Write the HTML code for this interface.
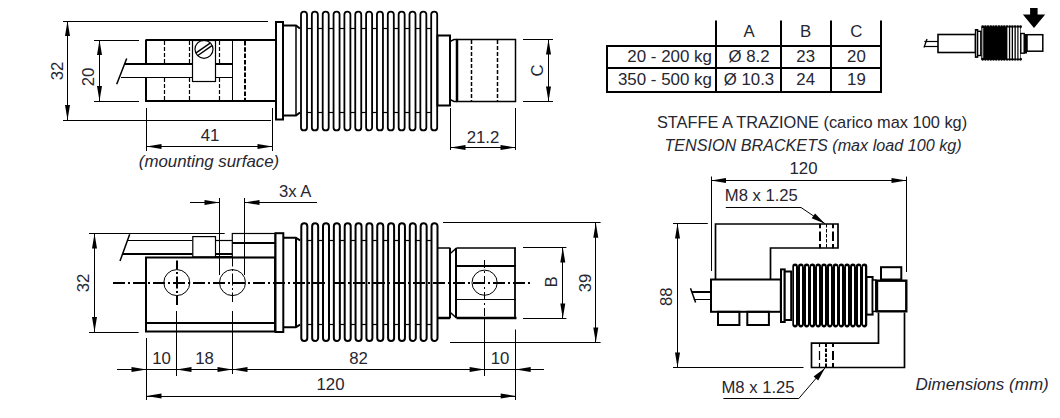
<!DOCTYPE html>
<html><head><meta charset="utf-8"><style>
html,body{margin:0;padding:0;background:#fff;}
svg{display:block;}
text{font-family:"Liberation Sans",sans-serif;fill:#262630;stroke:none;}
</style></head><body>
<svg width="1060" height="418" viewBox="0 0 1060 418" stroke="#000" stroke-linecap="butt">
<rect x="0" y="0" width="1060" height="418" fill="#fff" stroke="none"/>
<line x1="63" y1="21.5" x2="268" y2="21.5" stroke-width="1" />
<line x1="63" y1="120.5" x2="271" y2="120.5" stroke-width="1" />
<line x1="67.5" y1="21" x2="67.5" y2="120" stroke-width="1" />
<polygon points="67.5,21 65.0,36 70.0,36" fill="#000" stroke="none"/>
<polygon points="67.5,120 65.0,105 70.0,105" fill="#000" stroke="none"/>
<text x="0" y="0" transform="translate(63 71) rotate(-90) scale(1.05 1)" text-anchor="middle" font-size="16" >32</text>
<line x1="94" y1="40.5" x2="139" y2="40.5" stroke-width="1" />
<line x1="94" y1="101.5" x2="139" y2="101.5" stroke-width="1" />
<line x1="99.5" y1="40" x2="99.5" y2="101" stroke-width="1" />
<polygon points="99.5,40 97.0,55 102.0,55" fill="#000" stroke="none"/>
<polygon points="99.5,101 97.0,86 102.0,86" fill="#000" stroke="none"/>
<text x="0" y="0" transform="translate(94 77) rotate(-90) scale(1.05 1)" text-anchor="middle" font-size="16" >20</text>
<line x1="146" y1="40" x2="276" y2="40" stroke-width="2" />
<line x1="146" y1="101" x2="276" y2="101" stroke-width="2" />
<line x1="146" y1="39.5" x2="146" y2="64" stroke-width="2" />
<line x1="146" y1="77" x2="146" y2="102" stroke-width="2" />
<line x1="125" y1="64" x2="232.5" y2="64" stroke-width="2" />
<line x1="121" y1="77.5" x2="232.5" y2="77.5" stroke-width="1.2" />
<line x1="126.7" y1="58.4" x2="116.7" y2="84.3" stroke-width="1.5" />
<line x1="164.5" y1="41" x2="164.5" y2="63" stroke-width="1.2" stroke-dasharray="4 2"/>
<line x1="164.5" y1="78" x2="164.5" y2="101" stroke-width="1.2" stroke-dasharray="4 2"/>
<line x1="189.5" y1="41" x2="189.5" y2="63" stroke-width="1.2" stroke-dasharray="4 2"/>
<line x1="189.5" y1="78" x2="189.5" y2="101" stroke-width="1.2" stroke-dasharray="4 2"/>
<line x1="219.5" y1="41" x2="219.5" y2="63" stroke-width="1.2" stroke-dasharray="4 2"/>
<line x1="219.5" y1="78" x2="219.5" y2="101" stroke-width="1.2" stroke-dasharray="4 2"/>
<line x1="232.5" y1="40" x2="232.5" y2="101" stroke-width="1" />
<line x1="245" y1="41" x2="245" y2="100" stroke-width="2" stroke-dasharray="4.5 1.8"/>
<rect x="192.5" y="40.5" width="23.0" height="41.0" stroke-width="1.2" fill="#fff"/>
<circle cx="204" cy="49.3" r="9" stroke-width="1.2" fill="none"/>
<line x1="196.04" y1="52.92" x2="210.13" y2="43.06" stroke-width="1.4" />
<line x1="197.87" y1="55.54" x2="211.96" y2="45.68" stroke-width="1.4" />
<rect x="276" y="22" width="7" height="97.5" stroke-width="2" fill="#fff"/>
<polyline points="283,25.5 296,25.5 300,28.5" stroke-width="2" fill="none"/>
<polyline points="283,115.5 296,115.5 300,112.5" stroke-width="2" fill="none"/>
<line x1="296" y1="25.5" x2="296" y2="115.5" stroke-width="1.5" />
<path d="M301.0,127.4 L301.0,14.6 A3,3 0 0 1 307.0,14.6 L307.0,127.4 A3,3 0 0 1 301.0,127.4 Z" stroke-width="1.8" fill="none"/>
<line x1="307.0" y1="28.5" x2="311.85" y2="28.5" stroke-width="1.2" />
<line x1="307.0" y1="112.5" x2="311.85" y2="112.5" stroke-width="1.2" />
<path d="M311.85,127.4 L311.85,14.6 A3,3 0 0 1 317.85,14.6 L317.85,127.4 A3,3 0 0 1 311.85,127.4 Z" stroke-width="1.8" fill="none"/>
<line x1="317.85" y1="28.5" x2="322.7" y2="28.5" stroke-width="1.2" />
<line x1="317.85" y1="112.5" x2="322.7" y2="112.5" stroke-width="1.2" />
<path d="M322.7,127.4 L322.7,14.6 A3,3 0 0 1 328.7,14.6 L328.7,127.4 A3,3 0 0 1 322.7,127.4 Z" stroke-width="1.8" fill="none"/>
<line x1="328.7" y1="28.5" x2="333.55" y2="28.5" stroke-width="1.2" />
<line x1="328.7" y1="112.5" x2="333.55" y2="112.5" stroke-width="1.2" />
<path d="M333.55,127.4 L333.55,14.6 A3,3 0 0 1 339.55,14.6 L339.55,127.4 A3,3 0 0 1 333.55,127.4 Z" stroke-width="1.8" fill="none"/>
<line x1="339.55" y1="28.5" x2="344.4" y2="28.5" stroke-width="1.2" />
<line x1="339.55" y1="112.5" x2="344.4" y2="112.5" stroke-width="1.2" />
<path d="M344.4,127.4 L344.4,14.6 A3,3 0 0 1 350.4,14.6 L350.4,127.4 A3,3 0 0 1 344.4,127.4 Z" stroke-width="1.8" fill="none"/>
<line x1="350.4" y1="28.5" x2="355.25" y2="28.5" stroke-width="1.2" />
<line x1="350.4" y1="112.5" x2="355.25" y2="112.5" stroke-width="1.2" />
<path d="M355.25,127.4 L355.25,14.6 A3,3 0 0 1 361.25,14.6 L361.25,127.4 A3,3 0 0 1 355.25,127.4 Z" stroke-width="1.8" fill="none"/>
<line x1="361.25" y1="28.5" x2="366.1" y2="28.5" stroke-width="1.2" />
<line x1="361.25" y1="112.5" x2="366.1" y2="112.5" stroke-width="1.2" />
<path d="M366.1,127.4 L366.1,14.6 A3,3 0 0 1 372.1,14.6 L372.1,127.4 A3,3 0 0 1 366.1,127.4 Z" stroke-width="1.8" fill="none"/>
<line x1="372.1" y1="28.5" x2="376.95" y2="28.5" stroke-width="1.2" />
<line x1="372.1" y1="112.5" x2="376.95" y2="112.5" stroke-width="1.2" />
<path d="M376.95,127.4 L376.95,14.6 A3,3 0 0 1 382.95,14.6 L382.95,127.4 A3,3 0 0 1 376.95,127.4 Z" stroke-width="1.8" fill="none"/>
<line x1="382.95" y1="28.5" x2="387.8" y2="28.5" stroke-width="1.2" />
<line x1="382.95" y1="112.5" x2="387.8" y2="112.5" stroke-width="1.2" />
<path d="M387.8,127.4 L387.8,14.6 A3,3 0 0 1 393.8,14.6 L393.8,127.4 A3,3 0 0 1 387.8,127.4 Z" stroke-width="1.8" fill="none"/>
<line x1="393.8" y1="28.5" x2="398.65" y2="28.5" stroke-width="1.2" />
<line x1="393.8" y1="112.5" x2="398.65" y2="112.5" stroke-width="1.2" />
<path d="M398.65,127.4 L398.65,14.6 A3,3 0 0 1 404.65,14.6 L404.65,127.4 A3,3 0 0 1 398.65,127.4 Z" stroke-width="1.8" fill="none"/>
<line x1="404.65" y1="28.5" x2="409.5" y2="28.5" stroke-width="1.2" />
<line x1="404.65" y1="112.5" x2="409.5" y2="112.5" stroke-width="1.2" />
<path d="M409.5,127.4 L409.5,14.6 A3,3 0 0 1 415.5,14.6 L415.5,127.4 A3,3 0 0 1 409.5,127.4 Z" stroke-width="1.8" fill="none"/>
<line x1="415.5" y1="28.5" x2="420.35" y2="28.5" stroke-width="1.2" />
<line x1="415.5" y1="112.5" x2="420.35" y2="112.5" stroke-width="1.2" />
<path d="M420.35,127.4 L420.35,14.6 A3,3 0 0 1 426.35,14.6 L426.35,127.4 A3,3 0 0 1 420.35,127.4 Z" stroke-width="1.8" fill="none"/>
<line x1="426.35" y1="28.5" x2="431.2" y2="28.5" stroke-width="1.2" />
<line x1="426.35" y1="112.5" x2="431.2" y2="112.5" stroke-width="1.2" />
<path d="M431.2,127.4 L431.2,14.6 A3,3 0 0 1 437.2,14.6 L437.2,127.4 A3,3 0 0 1 431.2,127.4 Z" stroke-width="1.8" fill="none"/>
<rect x="437.5" y="35.5" width="12.5" height="70.0" stroke-width="2" fill="#fff"/>
<polyline points="450,41.5 454,39.5 457,39.5" stroke-width="1.5" fill="none"/>
<polyline points="450,99.5 454,101.5 457,101.5" stroke-width="1.5" fill="none"/>
<rect x="457" y="39.5" width="58.5" height="62.0" stroke-width="1.5" fill="#fff"/>
<line x1="457" y1="39.5" x2="457" y2="101.5" stroke-width="2.5" />
<line x1="471.5" y1="40" x2="471.5" y2="101" stroke-width="1.5" stroke-dasharray="4 2"/>
<line x1="497.5" y1="40" x2="497.5" y2="101" stroke-width="1.5" stroke-dasharray="4 2"/>
<line x1="523" y1="39.5" x2="553" y2="39.5" stroke-width="1" />
<line x1="523" y1="101.5" x2="553" y2="101.5" stroke-width="1" />
<line x1="548.5" y1="39.5" x2="548.5" y2="101.5" stroke-width="1" />
<polygon points="548.5,39.5 546.0,54.5 551.0,54.5" fill="#000" stroke="none"/>
<polygon points="548.5,101.5 546.0,86.5 551.0,86.5" fill="#000" stroke="none"/>
<text x="0" y="0" transform="translate(543 70.5) rotate(-90) scale(1.05 1)" text-anchor="middle" font-size="16" >C</text>
<line x1="450.5" y1="108" x2="450.5" y2="150" stroke-width="1" />
<line x1="515.5" y1="108" x2="515.5" y2="150" stroke-width="1" />
<line x1="450.5" y1="147.5" x2="515.5" y2="147.5" stroke-width="1" />
<polygon points="450.5,147.5 465.5,145.0 465.5,150.0" fill="#000" stroke="none"/>
<polygon points="515.5,147.5 500.5,145.0 500.5,150.0" fill="#000" stroke="none"/>
<text x="0" y="0" transform="translate(483 142.5) scale(1.05 1)" text-anchor="middle" font-size="16" >21.2</text>
<line x1="146.5" y1="108" x2="146.5" y2="151" stroke-width="1" />
<line x1="272.5" y1="108" x2="272.5" y2="151" stroke-width="1" />
<line x1="146.5" y1="146.5" x2="272.5" y2="146.5" stroke-width="1" />
<polygon points="146.5,146.5 161.5,144.0 161.5,149.0" fill="#000" stroke="none"/>
<polygon points="272.5,146.5 257.5,144.0 257.5,149.0" fill="#000" stroke="none"/>
<text x="0" y="0" transform="translate(210 141) scale(1.05 1)" text-anchor="middle" font-size="16" >41</text>
<text x="0" y="0" transform="translate(209 167) scale(1.053 1)" text-anchor="middle" font-size="16" font-style="italic" >(mounting surface)</text>
<line x1="89" y1="233.5" x2="224.7" y2="233.5" stroke-width="1" />
<line x1="89" y1="332.5" x2="138.6" y2="332.5" stroke-width="1" />
<line x1="94.5" y1="233.5" x2="94.5" y2="332" stroke-width="1" />
<polygon points="94.5,233.5 92.0,248.5 97.0,248.5" fill="#000" stroke="none"/>
<polygon points="94.5,332 92.0,317 97.0,317" fill="#000" stroke="none"/>
<text x="0" y="0" transform="translate(89 283) rotate(-90) scale(1.05 1)" text-anchor="middle" font-size="16" >32</text>
<line x1="219.5" y1="198" x2="219.5" y2="275" stroke-width="1" />
<line x1="244.5" y1="198" x2="244.5" y2="275" stroke-width="1" />
<line x1="190" y1="202.5" x2="219.5" y2="202.5" stroke-width="1" />
<polygon points="219.5,202.5 204.5,200.0 204.5,205.0" fill="#000" stroke="none"/>
<line x1="244.5" y1="202.5" x2="317" y2="202.5" stroke-width="1" />
<polygon points="244.5,202.5 259.5,200.0 259.5,205.0" fill="#000" stroke="none"/>
<text x="0" y="0" transform="translate(295.2 196.5) scale(1.04 1)" text-anchor="middle" font-size="16" >3x A</text>
<line x1="129.7" y1="234.3" x2="120" y2="261.1" stroke-width="1.5" />
<line x1="128" y1="240.5" x2="192.5" y2="240.5" stroke-width="1.2" />
<line x1="123" y1="254" x2="192.5" y2="254" stroke-width="2" />
<rect x="192.8" y="236.6" width="22.69999999999999" height="20.299999999999983" stroke-width="1.2" fill="#fff"/>
<line x1="215.5" y1="240.5" x2="232.3" y2="240.5" stroke-width="1.2" />
<line x1="215.5" y1="254" x2="232.3" y2="254" stroke-width="2" />
<line x1="215.5" y1="256.5" x2="232.3" y2="256.5" stroke-width="1" />
<rect x="146" y="257.5" width="129" height="74.0" stroke-width="2" fill="none"/>
<line x1="146" y1="323" x2="275" y2="323" stroke-width="2" />
<rect x="232.3" y="233.5" width="42.69999999999999" height="24.0" stroke-width="1.2" fill="none"/>
<line x1="232.3" y1="243" x2="275" y2="243" stroke-width="2" />
<rect x="275.5" y="233.2" width="7.800000000000011" height="98.80000000000001" stroke-width="2" fill="#fff"/>
<polyline points="283.3,237.7 295.8,237.7 300.1,240.4" stroke-width="2" fill="none"/>
<polyline points="283.3,327.3 295.8,327.3 300.1,324.6" stroke-width="2" fill="none"/>
<line x1="296" y1="237.7" x2="296" y2="327.3" stroke-width="2" />
<path d="M301.3,338 L301.3,226.2 A3,3 0 0 1 307.3,226.2 L307.3,338 A3,3 0 0 1 301.3,338 Z" stroke-width="2" fill="none"/>
<line x1="307.3" y1="240.5" x2="312.15" y2="240.5" stroke-width="1.2" />
<line x1="307.3" y1="324.5" x2="312.15" y2="324.5" stroke-width="1.2" />
<path d="M312.15,338 L312.15,226.2 A3,3 0 0 1 318.15,226.2 L318.15,338 A3,3 0 0 1 312.15,338 Z" stroke-width="2" fill="none"/>
<line x1="318.15" y1="240.5" x2="323.0" y2="240.5" stroke-width="1.2" />
<line x1="318.15" y1="324.5" x2="323.0" y2="324.5" stroke-width="1.2" />
<path d="M323.0,338 L323.0,226.2 A3,3 0 0 1 329.0,226.2 L329.0,338 A3,3 0 0 1 323.0,338 Z" stroke-width="2" fill="none"/>
<line x1="329.0" y1="240.5" x2="333.85" y2="240.5" stroke-width="1.2" />
<line x1="329.0" y1="324.5" x2="333.85" y2="324.5" stroke-width="1.2" />
<path d="M333.85,338 L333.85,226.2 A3,3 0 0 1 339.85,226.2 L339.85,338 A3,3 0 0 1 333.85,338 Z" stroke-width="2" fill="none"/>
<line x1="339.85" y1="240.5" x2="344.7" y2="240.5" stroke-width="1.2" />
<line x1="339.85" y1="324.5" x2="344.7" y2="324.5" stroke-width="1.2" />
<path d="M344.7,338 L344.7,226.2 A3,3 0 0 1 350.7,226.2 L350.7,338 A3,3 0 0 1 344.7,338 Z" stroke-width="2" fill="none"/>
<line x1="350.7" y1="240.5" x2="355.55" y2="240.5" stroke-width="1.2" />
<line x1="350.7" y1="324.5" x2="355.55" y2="324.5" stroke-width="1.2" />
<path d="M355.55,338 L355.55,226.2 A3,3 0 0 1 361.55,226.2 L361.55,338 A3,3 0 0 1 355.55,338 Z" stroke-width="2" fill="none"/>
<line x1="361.55" y1="240.5" x2="366.4" y2="240.5" stroke-width="1.2" />
<line x1="361.55" y1="324.5" x2="366.4" y2="324.5" stroke-width="1.2" />
<path d="M366.4,338 L366.4,226.2 A3,3 0 0 1 372.4,226.2 L372.4,338 A3,3 0 0 1 366.4,338 Z" stroke-width="2" fill="none"/>
<line x1="372.4" y1="240.5" x2="377.25" y2="240.5" stroke-width="1.2" />
<line x1="372.4" y1="324.5" x2="377.25" y2="324.5" stroke-width="1.2" />
<path d="M377.25,338 L377.25,226.2 A3,3 0 0 1 383.25,226.2 L383.25,338 A3,3 0 0 1 377.25,338 Z" stroke-width="2" fill="none"/>
<line x1="383.25" y1="240.5" x2="388.1" y2="240.5" stroke-width="1.2" />
<line x1="383.25" y1="324.5" x2="388.1" y2="324.5" stroke-width="1.2" />
<path d="M388.1,338 L388.1,226.2 A3,3 0 0 1 394.1,226.2 L394.1,338 A3,3 0 0 1 388.1,338 Z" stroke-width="2" fill="none"/>
<line x1="394.1" y1="240.5" x2="398.95" y2="240.5" stroke-width="1.2" />
<line x1="394.1" y1="324.5" x2="398.95" y2="324.5" stroke-width="1.2" />
<path d="M398.95,338 L398.95,226.2 A3,3 0 0 1 404.95,226.2 L404.95,338 A3,3 0 0 1 398.95,338 Z" stroke-width="2" fill="none"/>
<line x1="404.95" y1="240.5" x2="409.8" y2="240.5" stroke-width="1.2" />
<line x1="404.95" y1="324.5" x2="409.8" y2="324.5" stroke-width="1.2" />
<path d="M409.8,338 L409.8,226.2 A3,3 0 0 1 415.8,226.2 L415.8,338 A3,3 0 0 1 409.8,338 Z" stroke-width="2" fill="none"/>
<line x1="415.8" y1="240.5" x2="420.65" y2="240.5" stroke-width="1.2" />
<line x1="415.8" y1="324.5" x2="420.65" y2="324.5" stroke-width="1.2" />
<path d="M420.65,338 L420.65,226.2 A3,3 0 0 1 426.65,226.2 L426.65,338 A3,3 0 0 1 420.65,338 Z" stroke-width="2" fill="none"/>
<line x1="426.65" y1="240.5" x2="431.5" y2="240.5" stroke-width="1.2" />
<line x1="426.65" y1="324.5" x2="431.5" y2="324.5" stroke-width="1.2" />
<path d="M431.5,338 L431.5,226.2 A3,3 0 0 1 437.5,226.2 L437.5,338 A3,3 0 0 1 431.5,338 Z" stroke-width="2" fill="none"/>
<line x1="438" y1="248" x2="450.3" y2="248" stroke-width="1.5" />
<line x1="456.5" y1="248" x2="515.7" y2="248" stroke-width="1.5" />
<line x1="437" y1="318" x2="450.3" y2="318" stroke-width="2.5" />
<line x1="456.5" y1="318" x2="516.5" y2="318" stroke-width="2.5" />
<line x1="450" y1="248" x2="450" y2="318" stroke-width="2" />
<line x1="456" y1="248" x2="456" y2="318" stroke-width="2" />
<line x1="515" y1="247.5" x2="515" y2="318.5" stroke-width="1.8" />
<polyline points="450.3,253.5 456.5,248" stroke-width="1.5" fill="none"/>
<polyline points="450.3,312.5 456.5,318" stroke-width="1.5" fill="none"/>
<line x1="457" y1="266" x2="515.7" y2="266" stroke-width="2" />
<line x1="457" y1="299.5" x2="515.7" y2="299.5" stroke-width="1" />
<circle cx="176.8" cy="282.6" r="13" stroke-width="1" fill="none"/>
<circle cx="232.5" cy="282.6" r="13" stroke-width="1" fill="none"/>
<circle cx="484.6" cy="282.7" r="12.6" stroke-width="1" fill="none"/>
<line x1="113" y1="283" x2="533" y2="283" stroke-width="2" stroke-dasharray="12 3 2 3"/>
<line x1="177" y1="260.5" x2="177" y2="305" stroke-width="2" stroke-dasharray="9 2.5 2 2.5 12 2.5 2 2.5 9.5"/>
<line x1="232.5" y1="257.5" x2="232.5" y2="305" stroke-width="1" stroke-dasharray="9 2.5 2 2.5 12 2.5 2 2.5 9.5"/>
<line x1="484.5" y1="260" x2="484.5" y2="318" stroke-width="1" stroke-dasharray="8 3 2 3"/>
<line x1="484.5" y1="318" x2="484.5" y2="376" stroke-width="1" />
<line x1="523" y1="247.5" x2="566.4" y2="247.5" stroke-width="1" />
<line x1="523" y1="318.5" x2="566.4" y2="318.5" stroke-width="1" />
<line x1="562.5" y1="247.5" x2="562.5" y2="318.5" stroke-width="1" />
<polygon points="562.8,247.5 560.3,262.5 565.3,262.5" fill="#000" stroke="none"/>
<polygon points="562.8,318.5 560.3,303.5 565.3,303.5" fill="#000" stroke="none"/>
<text x="0" y="0" transform="translate(557 282) rotate(-90) scale(1.05 1)" text-anchor="middle" font-size="16" >B</text>
<line x1="443" y1="222.5" x2="600.6" y2="222.5" stroke-width="1" />
<line x1="450" y1="342.5" x2="600.6" y2="342.5" stroke-width="1" />
<line x1="595.5" y1="222.7" x2="595.5" y2="342.5" stroke-width="1" />
<polygon points="595.8,222.7 593.3,237.7 598.3,237.7" fill="#000" stroke="none"/>
<polygon points="595.8,342.5 593.3,327.5 598.3,327.5" fill="#000" stroke="none"/>
<text x="0" y="0" transform="translate(591 283) rotate(-90) scale(1.05 1)" text-anchor="middle" font-size="16" >39</text>
<line x1="146.5" y1="338" x2="146.5" y2="400" stroke-width="1" />
<line x1="176.5" y1="311" x2="176.5" y2="376" stroke-width="1" />
<line x1="232.5" y1="311" x2="232.5" y2="374" stroke-width="1" />
<line x1="515.5" y1="329.5" x2="515.5" y2="400" stroke-width="1" />
<line x1="117" y1="369.5" x2="544" y2="369.5" stroke-width="1" />
<polygon points="146.5,369.5 131.5,367.0 131.5,372.0" fill="#000" stroke="none"/>
<polygon points="176.5,369.5 191.5,367.0 191.5,372.0" fill="#000" stroke="none"/>
<polygon points="232.5,369.5 217.5,367.0 217.5,372.0" fill="#000" stroke="none"/>
<polygon points="232.5,369.5 247.5,367.0 247.5,372.0" fill="#000" stroke="none"/>
<polygon points="484.6,369.5 469.6,367.0 469.6,372.0" fill="#000" stroke="none"/>
<polygon points="515.7,369.5 530.7,367.0 530.7,372.0" fill="#000" stroke="none"/>
<text x="0" y="0" transform="translate(161.5 363.5) scale(1.05 1)" text-anchor="middle" font-size="16" >10</text>
<text x="0" y="0" transform="translate(204.5 363.5) scale(1.05 1)" text-anchor="middle" font-size="16" >18</text>
<text x="0" y="0" transform="translate(358.5 363.5) scale(1.05 1)" text-anchor="middle" font-size="16" >82</text>
<text x="0" y="0" transform="translate(500 363.5) scale(1.05 1)" text-anchor="middle" font-size="16" >10</text>
<line x1="146.5" y1="396.5" x2="515.7" y2="396.5" stroke-width="1" />
<polygon points="146.5,396 161.5,393.5 161.5,398.5" fill="#000" stroke="none"/>
<polygon points="515.7,396 500.70000000000005,393.5 500.70000000000005,398.5" fill="#000" stroke="none"/>
<text x="0" y="0" transform="translate(330.5 390) scale(1.05 1)" text-anchor="middle" font-size="16" >120</text>
<line x1="716" y1="20.4" x2="716" y2="92.4" stroke-width="2" />
<line x1="781" y1="20.4" x2="781" y2="92.4" stroke-width="2" />
<line x1="831" y1="20.4" x2="831" y2="92.4" stroke-width="2" />
<line x1="881" y1="20.4" x2="881" y2="92.4" stroke-width="2" />
<line x1="606" y1="46" x2="882" y2="46" stroke-width="2" />
<line x1="606" y1="68" x2="882" y2="68" stroke-width="2" />
<line x1="606" y1="92" x2="882" y2="92" stroke-width="2" />
<line x1="607" y1="45" x2="607" y2="92.4" stroke-width="2" />
<text x="0" y="0" transform="translate(749 36.5) scale(1.05 1)" text-anchor="middle" font-size="16" >A</text>
<text x="0" y="0" transform="translate(805.7 36.5) scale(1.05 1)" text-anchor="middle" font-size="16" >B</text>
<text x="0" y="0" transform="translate(856.4 36.5) scale(1.05 1)" text-anchor="middle" font-size="16" >C</text>
<text x="0" y="0" transform="translate(712 61.7) scale(1.058 1)" text-anchor="end" font-size="16" >20 - 200 kg</text>
<text x="0" y="0" transform="translate(749 61.7) scale(1.05 1)" text-anchor="middle" font-size="16" >Ø 8.2</text>
<text x="0" y="0" transform="translate(805.7 61.7) scale(1.05 1)" text-anchor="middle" font-size="16" >23</text>
<text x="0" y="0" transform="translate(856.4 61.7) scale(1.05 1)" text-anchor="middle" font-size="16" >20</text>
<text x="0" y="0" transform="translate(712 85.4) scale(1.058 1)" text-anchor="end" font-size="16" >350 - 500 kg</text>
<text x="0" y="0" transform="translate(749 85.4) scale(1.05 1)" text-anchor="middle" font-size="16" >Ø 10.3</text>
<text x="0" y="0" transform="translate(805.7 85.4) scale(1.05 1)" text-anchor="middle" font-size="16" >24</text>
<text x="0" y="0" transform="translate(856.4 85.4) scale(1.05 1)" text-anchor="middle" font-size="16" >19</text>
<polygon points="1030.1,8 1037.6,8 1037.6,14.4 1045.2,14.4 1034,28 1022.9,14.4 1030.1,14.4" fill="#000" stroke="none"/>
<rect x="938" y="34.5" width="37.5" height="18.0" stroke-width="1.6" fill="#fff"/>
<line x1="924.4" y1="41.5" x2="938" y2="41.5" stroke-width="1.2" />
<line x1="924.4" y1="46.5" x2="938" y2="46.5" stroke-width="1.2" />
<line x1="927" y1="39" x2="924" y2="47.5" stroke-width="1.3" />
<rect x="975.5" y="29.7" width="2.1000000000000227" height="27.500000000000004" stroke-width="1.4" fill="#fff"/>
<rect x="977.6" y="31.3" width="3.199999999999932" height="24.2" stroke-width="1.4" fill="#fff"/>
<rect x="981.3" y="27" width="39.30000000000007" height="32" stroke-width="0" fill="#000"/>
<circle cx="982.70" cy="26.8" r="1.45" fill="#000" stroke="none"/>
<circle cx="982.70" cy="59.2" r="1.45" fill="#000" stroke="none"/>
<circle cx="985.40" cy="26.8" r="1.45" fill="#000" stroke="none"/>
<circle cx="985.40" cy="59.2" r="1.45" fill="#000" stroke="none"/>
<circle cx="988.10" cy="26.8" r="1.45" fill="#000" stroke="none"/>
<circle cx="988.10" cy="59.2" r="1.45" fill="#000" stroke="none"/>
<circle cx="990.80" cy="26.8" r="1.45" fill="#000" stroke="none"/>
<circle cx="990.80" cy="59.2" r="1.45" fill="#000" stroke="none"/>
<circle cx="993.50" cy="26.8" r="1.45" fill="#000" stroke="none"/>
<circle cx="993.50" cy="59.2" r="1.45" fill="#000" stroke="none"/>
<circle cx="996.20" cy="26.8" r="1.45" fill="#000" stroke="none"/>
<circle cx="996.20" cy="59.2" r="1.45" fill="#000" stroke="none"/>
<circle cx="998.90" cy="26.8" r="1.45" fill="#000" stroke="none"/>
<circle cx="998.90" cy="59.2" r="1.45" fill="#000" stroke="none"/>
<circle cx="1001.60" cy="26.8" r="1.45" fill="#000" stroke="none"/>
<circle cx="1001.60" cy="59.2" r="1.45" fill="#000" stroke="none"/>
<circle cx="1004.30" cy="26.8" r="1.45" fill="#000" stroke="none"/>
<circle cx="1004.30" cy="59.2" r="1.45" fill="#000" stroke="none"/>
<circle cx="1007.00" cy="26.8" r="1.45" fill="#000" stroke="none"/>
<circle cx="1007.00" cy="59.2" r="1.45" fill="#000" stroke="none"/>
<circle cx="1009.70" cy="26.8" r="1.45" fill="#000" stroke="none"/>
<circle cx="1009.70" cy="59.2" r="1.45" fill="#000" stroke="none"/>
<circle cx="1012.40" cy="26.8" r="1.45" fill="#000" stroke="none"/>
<circle cx="1012.40" cy="59.2" r="1.45" fill="#000" stroke="none"/>
<circle cx="1015.10" cy="26.8" r="1.45" fill="#000" stroke="none"/>
<circle cx="1015.10" cy="59.2" r="1.45" fill="#000" stroke="none"/>
<circle cx="1017.80" cy="26.8" r="1.45" fill="#000" stroke="none"/>
<circle cx="1017.80" cy="59.2" r="1.45" fill="#000" stroke="none"/>
<circle cx="1020.50" cy="26.8" r="1.45" fill="#000" stroke="none"/>
<circle cx="1020.50" cy="59.2" r="1.45" fill="#000" stroke="none"/>
<rect x="982.4" y="28" width="0.8" height="30" fill="#fff" stroke="none"/>
<rect x="1007.4" y="27.5" width="1.5" height="31" fill="#fff" stroke="none"/>
<rect x="1010.2" y="27.5" width="1.5" height="31" fill="#fff" stroke="none"/>
<rect x="1013" y="27.5" width="1.5" height="31" fill="#fff" stroke="none"/>
<rect x="1015.8" y="27.5" width="1.5" height="31" fill="#fff" stroke="none"/>
<rect x="1018.5" y="27.5" width="1.5" height="31" fill="#fff" stroke="none"/>
<rect x="1020.8" y="33.5" width="3.400000000000091" height="19.700000000000003" stroke-width="1.4" fill="#fff"/>
<rect x="1024.2" y="34" width="2.7999999999999545" height="19.5" stroke-width="0" fill="#000"/>
<rect x="1027" y="34.7" width="15.799999999999955" height="16.5" stroke-width="1.5" fill="#fff"/>
<text x="0" y="0" transform="translate(812 127.6) scale(1.023 1)" text-anchor="middle" font-size="16" >STAFFE A TRAZIONE (carico max 100 kg)</text>
<text x="0" y="0" transform="translate(813 150.7) scale(1.01 1)" text-anchor="middle" font-size="16" font-style="italic" >TENSION BRACKETS (max load 100 kg)</text>
<text x="0" y="0" transform="translate(803.5 174.1) scale(1.05 1)" text-anchor="middle" font-size="16" >120</text>
<line x1="711" y1="180.5" x2="906.5" y2="180.5" stroke-width="1" />
<polygon points="711,180.5 726,178.0 726,183.0" fill="#000" stroke="none"/>
<polygon points="906.5,180.5 891.5,178.0 891.5,183.0" fill="#000" stroke="none"/>
<line x1="711.5" y1="176.5" x2="711.5" y2="271" stroke-width="1" />
<line x1="906.5" y1="176.6" x2="906.5" y2="272" stroke-width="1" />
<text x="0" y="0" transform="translate(724.8 201) scale(1.04 1)" text-anchor="start" font-size="16" >M8 x 1.25</text>
<polyline points="725.8,207.5 801,207.5 825,223.7" stroke-width="1" fill="none"/>
<polygon points="825.00,223.70 815.07,213.38 811.72,218.35" fill="#000" stroke="none"/>
<polyline points="715.5,279.5 715.5,224 838,224 838,248 770.5,248 770.5,279.5" stroke-width="1.7" fill="none"/>
<line x1="820" y1="224" x2="820" y2="248.3" stroke-width="2" stroke-dasharray="4.3 3.2 9.5 3 6"/>
<line x1="826.5" y1="224" x2="826.5" y2="248.3" stroke-width="1" stroke-dasharray="3.5 1.5"/>
<line x1="833" y1="224" x2="833" y2="248.3" stroke-width="2" stroke-dasharray="4.3 3.2 9.5 3 6"/>
<line x1="673" y1="223.5" x2="707.8" y2="223.5" stroke-width="1" />
<line x1="673" y1="367.5" x2="803.5" y2="367.5" stroke-width="1" />
<line x1="677.5" y1="223.5" x2="677.5" y2="367.5" stroke-width="1" />
<polygon points="677.5,223.5 675.0,238.5 680.0,238.5" fill="#000" stroke="none"/>
<polygon points="677.5,367.5 675.0,352.5 680.0,352.5" fill="#000" stroke="none"/>
<text x="0" y="0" transform="translate(672 296.7) rotate(-90) scale(1.05 1)" text-anchor="middle" font-size="16" >88</text>
<rect x="711" y="279.5" width="69.79999999999995" height="32.30000000000001" stroke-width="2" fill="#fff"/>
<line x1="692" y1="292" x2="711" y2="292" stroke-width="2" />
<line x1="693.8" y1="299.5" x2="711" y2="299.5" stroke-width="1" />
<line x1="690.5" y1="288.2" x2="695.6" y2="302.5" stroke-width="1.5" />
<rect x="718" y="311.8" width="21.399999999999977" height="13.199999999999989" stroke-width="2" fill="none"/>
<rect x="747.3" y="311.8" width="21.600000000000023" height="13.199999999999989" stroke-width="2" fill="none"/>
<rect x="781" y="269.4" width="3.7000000000000455" height="52.60000000000002" stroke-width="2" fill="#fff"/>
<rect x="784.7" y="271.5" width="6.5" height="48.5" stroke-width="2" fill="#fff"/>
<rect x="792.30" y="263.6" width="5.6" height="63.8" rx="2.8" ry="2.8" fill="#000" stroke="none"/>
<rect x="795.10" y="267" width="5.78" height="57.8" fill="#000" stroke="none"/>
<rect x="798.08" y="263.6" width="5.6" height="63.8" rx="2.8" ry="2.8" fill="#000" stroke="none"/>
<rect x="800.88" y="267" width="5.78" height="57.8" fill="#000" stroke="none"/>
<rect x="803.86" y="263.6" width="5.6" height="63.8" rx="2.8" ry="2.8" fill="#000" stroke="none"/>
<rect x="806.66" y="267" width="5.78" height="57.8" fill="#000" stroke="none"/>
<rect x="809.64" y="263.6" width="5.6" height="63.8" rx="2.8" ry="2.8" fill="#000" stroke="none"/>
<rect x="812.44" y="267" width="5.78" height="57.8" fill="#000" stroke="none"/>
<rect x="815.42" y="263.6" width="5.6" height="63.8" rx="2.8" ry="2.8" fill="#000" stroke="none"/>
<rect x="818.22" y="267" width="5.78" height="57.8" fill="#000" stroke="none"/>
<rect x="821.20" y="263.6" width="5.6" height="63.8" rx="2.8" ry="2.8" fill="#000" stroke="none"/>
<rect x="824.00" y="267" width="5.78" height="57.8" fill="#000" stroke="none"/>
<rect x="826.98" y="263.6" width="5.6" height="63.8" rx="2.8" ry="2.8" fill="#000" stroke="none"/>
<rect x="829.78" y="267" width="5.78" height="57.8" fill="#000" stroke="none"/>
<rect x="832.76" y="263.6" width="5.6" height="63.8" rx="2.8" ry="2.8" fill="#000" stroke="none"/>
<rect x="835.56" y="267" width="5.78" height="57.8" fill="#000" stroke="none"/>
<rect x="838.54" y="263.6" width="5.6" height="63.8" rx="2.8" ry="2.8" fill="#000" stroke="none"/>
<rect x="841.34" y="267" width="5.78" height="57.8" fill="#000" stroke="none"/>
<rect x="844.32" y="263.6" width="5.6" height="63.8" rx="2.8" ry="2.8" fill="#000" stroke="none"/>
<rect x="847.12" y="267" width="5.78" height="57.8" fill="#000" stroke="none"/>
<rect x="850.10" y="263.6" width="5.6" height="63.8" rx="2.8" ry="2.8" fill="#000" stroke="none"/>
<rect x="852.90" y="267" width="5.78" height="57.8" fill="#000" stroke="none"/>
<rect x="855.88" y="263.6" width="5.6" height="63.8" rx="2.8" ry="2.8" fill="#000" stroke="none"/>
<rect x="858.68" y="267" width="5.78" height="57.8" fill="#000" stroke="none"/>
<rect x="861.66" y="263.6" width="5.6" height="63.8" rx="2.8" ry="2.8" fill="#000" stroke="none"/>
<rect x="794" y="266" width="2" height="59" rx="1" fill="#fff" stroke="none"/>
<rect x="800" y="266" width="2" height="59" rx="1" fill="#fff" stroke="none"/>
<rect x="806" y="266" width="2" height="59" rx="1" fill="#fff" stroke="none"/>
<rect x="811" y="266" width="2" height="59" rx="1" fill="#fff" stroke="none"/>
<rect x="817" y="266" width="2" height="59" rx="1" fill="#fff" stroke="none"/>
<rect x="823" y="266" width="2" height="59" rx="1" fill="#fff" stroke="none"/>
<rect x="829" y="266" width="2" height="59" rx="1" fill="#fff" stroke="none"/>
<rect x="835" y="266" width="2" height="59" rx="1" fill="#fff" stroke="none"/>
<rect x="840" y="266" width="2" height="59" rx="1" fill="#fff" stroke="none"/>
<rect x="846" y="266" width="2" height="59" rx="1" fill="#fff" stroke="none"/>
<rect x="852" y="266" width="2" height="59" rx="1" fill="#fff" stroke="none"/>
<rect x="858" y="266" width="2" height="59" rx="1" fill="#fff" stroke="none"/>
<rect x="863" y="266" width="2" height="59" rx="1" fill="#fff" stroke="none"/>
<rect x="866.5" y="277" width="6.100000000000023" height="37.60000000000002" stroke-width="2" fill="#fff"/>
<rect x="872.6" y="280" width="3.199999999999932" height="31.399999999999977" stroke-width="1.5" fill="#fff"/>
<rect x="881" y="267.2" width="20.299999999999955" height="12.300000000000011" stroke-width="2" fill="#fff"/>
<rect x="877" y="280.7" width="29.299999999999955" height="30.600000000000023" stroke-width="2.4" fill="#fff"/>
<polyline points="878.5,312.5 878.5,343.2 811.5,343.2 811.5,367.5 904.5,367.5 904.5,312.5" stroke-width="1.7" fill="none"/>
<line x1="819.5" y1="343.5" x2="819.5" y2="367.5" stroke-width="1.2" stroke-dasharray="3.5 4 9 3 6"/>
<line x1="826" y1="343.5" x2="826" y2="367.5" stroke-width="2" stroke-dasharray="3.5 1.5"/>
<line x1="833" y1="343.5" x2="833" y2="367.5" stroke-width="2" stroke-dasharray="3.5 4 9 3 6"/>
<text x="0" y="0" transform="translate(721.5 392.5) scale(1.04 1)" text-anchor="start" font-size="16" >M8 x 1.25</text>
<polyline points="723.4,398.5 798.8,398.5 825,367.9" stroke-width="1" fill="none"/>
<polygon points="825.00,367.90 813.62,376.58 818.17,380.49" fill="#000" stroke="none"/>
<text x="0" y="0" transform="translate(915.5 389.8) scale(1.064 1)" text-anchor="start" font-size="16" font-style="italic" >Dimensions (mm)</text>
</svg></body></html>
